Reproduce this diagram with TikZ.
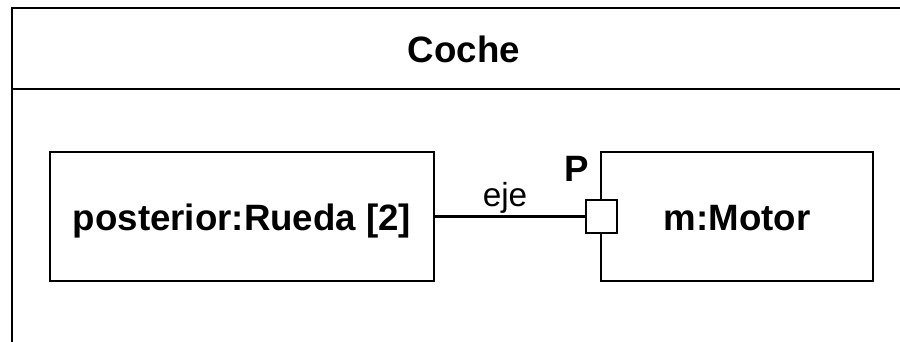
\documentclass[tikz,border=0pt]{standalone}
\usepackage{fontspec}
\setmainfont{Liberation Sans}
\begin{document}
\begin{tikzpicture}[x=0.75pt,y=-0.75pt,
  line/.style={line width=1.7pt,draw=black},
  boldtext/.style={font=\fontsize{27.5}{32}\selectfont\bfseries, inner sep=0pt},
  part/.style={line, rectangle, inner sep=0pt, boldtext, text height=21.75pt, text depth=0pt},
  portbox/.style={line, rectangle, fill=white, inner sep=0pt, minimum width=23pt, minimum height=24.5pt}]
\useasboundingbox (0,0) rectangle (900,342);
% outer frame
\coordinate (tl) at (12,8);
\coordinate (tr) at (901,8);
\coordinate (bl) at (12,343);
\coordinate (hl) at (12,89);
\coordinate (hr) at (901,89);
\draw[line] (tr) -- (tl) -- (bl);
\draw[line] (hl) -- (hr);
\node[boldtext, anchor=base] (title) at (464,62.5) {Coche};
% parts
\node[part, minimum width=288pt, minimum height=96.75pt] (rueda) at (242,216.5) {posterior:Rueda [2]};
\node[part, minimum width=204pt, minimum height=96.75pt] (motor) at (737,216.5) {m:Motor};
\node[portbox] (port) at (601.5,216.5) {};
\node[boldtext, anchor=base] (plabel) at (577,182) {P};
\draw[line] (rueda.east) -- (port.west);
\node[font=\fontsize{25}{30}\selectfont, inner sep=0pt, anchor=base] (ejelabel) at (505,207) {eje};
\end{tikzpicture}
\end{document}
